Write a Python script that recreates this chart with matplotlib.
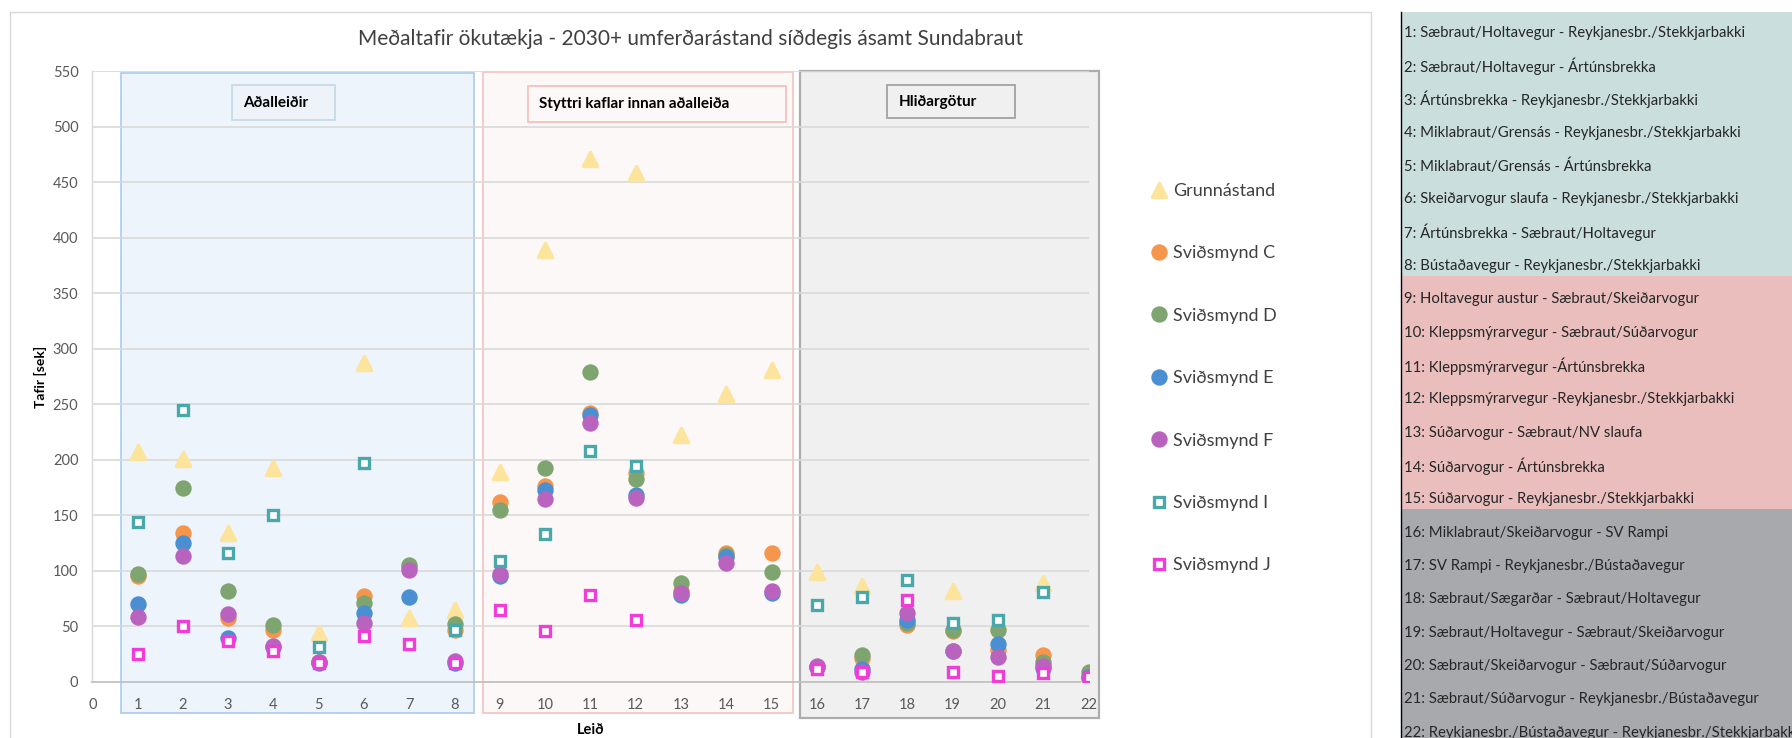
import numpy as np
import matplotlib
matplotlib.use("Agg")
import matplotlib.pyplot as plt
from matplotlib.patches import Rectangle
from matplotlib.markers import MarkerStyle
from matplotlib.lines import Line2D

plt.rcParams['font.family'] = ['Lato', 'DejaVu Sans']

nan = np.nan

# Route numbers (x axis) and average delay per scenario [sek]
leid = list(range(1, 23))
grunnastand = [207, 201, 134, 193, 44, 287, 57, 65, 189, 389, 471, 458, 222, 259, 281,
               99, 86, nan, 82, 54, 89, 5]
svidsmynd_c = [95, 134, 57, 47, 18, 77, 103, 47, 162, 176, 242, 188, 82, 116, 116,
               13, 21, 51, 46, 29, 24, 5]
svidsmynd_d = [97, 175, 82, 51, 18, 71, 105, 52, 155, 193, 279, 183, 89, 114, 99,
               13, 24, 53, 47, 47, 18, 9]
svidsmynd_e = [70, 125, 39, 31, 17, 62, 76, 17, 95, 173, 240, 168, 78, 112, 80,
               13, 11, 56, 28, 34, 12, 4]
svidsmynd_f = [58, 113, 61, 32, 18, 53, 101, 19, 97, 165, 233, 166, 80, 107, 82,
               14, 9, 62, 28, 22, 14, 3]
svidsmynd_i = [144, 245, 116, 150, 31, 197, nan, 47, 109, 133, 208, 194, nan, nan, nan,
               69, 76, 92, 53, 56, 81, nan]
svidsmynd_j = [25, 50, 37, 28, 17, 41, 34, 17, 65, 46, 78, 56, nan, nan, nan,
               11, 9, 74, 9, 5, 8, 4]

series_names = ["Grunnástand", "Sviðsmynd C", "Sviðsmynd D", "Sviðsmynd E",
                "Sviðsmynd F", "Sviðsmynd I", "Sviðsmynd J"]

group_names = ["Aðalleiðir", "Styttri kaflar innan aðalleiða", "Hliðargötur"]

route_labels = [
    "1: Sæbraut/Holtavegur - Reykjanesbr./Stekkjarbakki",
    "2: Sæbraut/Holtavegur - Ártúnsbrekka",
    "3: Ártúnsbrekka - Reykjanesbr./Stekkjarbakki",
    "4: Miklabraut/Grensás - Reykjanesbr./Stekkjarbakki",
    "5: Miklabraut/Grensás - Ártúnsbrekka",
    "6: Skeiðarvogur slaufa - Reykjanesbr./Stekkjarbakki",
    "7: Ártúnsbrekka - Sæbraut/Holtavegur",
    "8: Bústaðavegur - Reykjanesbr./Stekkjarbakki",
    "9: Holtavegur austur - Sæbraut/Skeiðarvogur",
    "10: Kleppsmýrarvegur - Sæbraut/Súðarvogur",
    "11: Kleppsmýrarvegur -Ártúnsbrekka",
    "12: Kleppsmýrarvegur -Reykjanesbr./Stekkjarbakki",
    "13: Súðarvogur - Sæbraut/NV slaufa",
    "14: Súðarvogur - Ártúnsbrekka",
    "15: Súðarvogur - Reykjanesbr./Stekkjarbakki",
    "16: Miklabraut/Skeiðarvogur - SV Rampi",
    "17: SV Rampi - Reykjanesbr./Bústaðavegur",
    "18: Sæbraut/Sægarðar - Sæbraut/Holtavegur",
    "19: Sæbraut/Holtavegur - Sæbraut/Skeiðarvogur",
    "20: Sæbraut/Skeiðarvogur - Sæbraut/Súðarvogur",
    "21: Sæbraut/Súðarvogur - Reykjanesbr./Bústaðavegur",
    "22: Reykjanesbr./Bústaðavegur - Reykjanesbr./Stekkjarbakki",
]

title = "Meðaltafir ökutækja - 2030+ umferðarástand síðdegis ásamt Sundabraut"

W, H = 1792, 738
fig = plt.figure(figsize=(W / 100, H / 100), dpi=100)


def fx(px):
    return px / W


def fy(py):
    return 1 - py / H


# outer chart frame
fig.patches.append(Rectangle((fx(10), -0.05), fx(1371) - fx(10), fy(11.7) + 0.05,
                             transform=fig.transFigure, fill=False,
                             ec='#D9D9D9', lw=1.0))

ax = fig.add_axes([fx(92.3), fy(681.7), fx(1088.5) - fx(92.3), (681.7 - 71.4) / H])
ax.set_xlim(0, 22)
ax.set_ylim(0, 550)
ax.patch.set_visible(False)
ax.set_xticks(range(0, 23))
ax.set_yticks(range(0, 551, 50))
ax.tick_params(length=0, labelsize=10.5, labelcolor='#595959')
ax.tick_params(axis='y', pad=10)
ax.tick_params(axis='x', pad=12)
for s in ('top', 'right'):
    ax.spines[s].set_visible(False)
ax.spines['left'].set_color('#D9D9D9')
ax.spines['left'].set_linewidth(1.0)
ax.spines['bottom'].set_color('#BFBFBF')
ax.spines['bottom'].set_linewidth(1.2)
ax.set_axisbelow(True)
ax.yaxis.grid(True, color='#D9D9D9', lw=1.2)

# shaded route groups
regions = [
    (0.63, 8.43, -28.5, 548.8, '#EDF4FB', '#A9CBEB', 1.2),
    (8.63, 15.48, -28.5, 549.7, '#FDF8F8', '#F3C1C1', 1.2),
    (15.62, 22.23, -33.0, 550.6, '#F0F0F0', '#ADADAD', 1.6),
]
for x0, x1, y0, y1, fc, ec, lw in regions:
    ax.add_patch(Rectangle((x0, y0), x1 - x0, y1 - y0, fc=fc, ec=ec, lw=lw,
                           clip_on=False, zorder=0.1))

# group caption boxes
captions = [
    (3.08, 5.36, 505.9, 537.7, 3.32, '#EDF3F9', '#C5D8E6', 1.2),
    (9.63, 15.31, 504.7, 536.8, 9.87, '#FDF8F8', '#F2BDBD', 1.2),
    (17.55, 20.37, 507.7, 537.7, 17.80, '#F0F0F0', '#A8A8A8', 1.4),
]
for name, (x0, x1, y0, y1, tx, fc, ec, lw) in zip(group_names, captions):
    ax.add_patch(Rectangle((x0, y0), x1 - x0, y1 - y0, fc=fc, ec=ec, lw=lw,
                           clip_on=False, zorder=0.6))
    ax.text(tx, (y0 + y1) / 2, name, ha='left', va='center', fontsize=11,
            fontweight='bold', color='#000000', zorder=0.7)

# scatter series
tri = MarkerStyle('^', joinstyle='round')
styles = [
    dict(marker=tri, ms=10.5, mfc='#FDE49C', mec='#FDE49C', mew=2.5),
    dict(marker='o', ms=11.8, mfc='#F5964C', mec='none'),
    dict(marker='o', ms=11.8, mfc='#7EA470', mec='none'),
    dict(marker='o', ms=11.8, mfc='#4A8FD2', mec='none'),
    dict(marker='o', ms=11.8, mfc='#B963BF', mec='none'),
    dict(marker='s', ms=6.8, mfc='white', mec='#4BA8AA', mew=2.4),
    dict(marker='s', ms=6.8, mfc='white', mec='#F23CD8', mew=2.4),
]
values = [grunnastand, svidsmynd_c, svidsmynd_d, svidsmynd_e, svidsmynd_f,
          svidsmynd_i, svidsmynd_j]
handles = []
for i, (name, vals, st) in enumerate(zip(series_names, values, styles)):
    h, = ax.plot(leid, vals, ls='none', label=name, zorder=3 + i * 0.1, **st)
    handles.append(h)

ax.set_ylabel("Tafir [sek]", fontsize=10, fontweight='bold', color='#000000')
ax.yaxis.label.set_va('center')
ax.yaxis.set_label_coords((40.2 - 92.3) / 996.2, 0.5)
ax.set_xlabel("Leið", fontsize=10.5, fontweight='bold', color='#000000')
ax.xaxis.label.set_va('center')
ax.xaxis.set_label_coords(0.5, (681.7 - 730) / 610.3)

fig.text(fx(690.8), fy(39.3), title, ha='center', va='center', fontsize=15,
         color='#404040')

fig.legend(handles=handles, labels=series_names, loc='upper left',
           bbox_to_anchor=(fx(1150), fy(183)), frameon=False, fontsize=13,
           labelcolor='#404040', labelspacing=2.57, handlelength=1.0,
           handletextpad=0.3, borderaxespad=0, borderpad=0)

# route description panel
panel = [(11.7, 276.0, '#CADEDE'), (276.0, 509.3, '#EBBEBE'), (509.3, 760.0, '#A7A9AC')]
for top, bot, col in panel:
    fig.patches.append(Rectangle((fx(1400.7), fy(bot)), 1 - fx(1400.7), fy(top) - fy(bot),
                                 transform=fig.transFigure, fc=col, ec='none'))
fig.lines.append(Line2D([fx(1400.7), fx(1400.7)], [fy(11.7), 0], transform=fig.transFigure,
                        color='#000000', lw=1.0))
for k, lab in enumerate(route_labels):
    fig.text(fx(1403.5), fy(32.7 + k * 33.33), lab, ha='left', va='center',
             fontsize=10.7, color='#262626')

fig.savefig("out.png", dpi=100)
